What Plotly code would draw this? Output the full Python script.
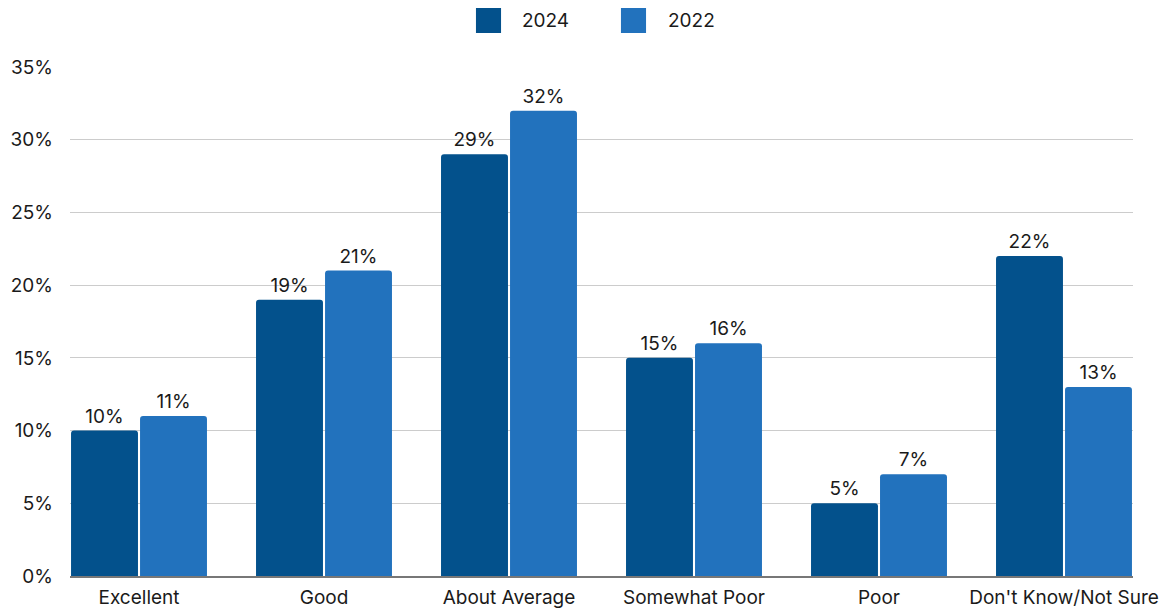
import plotly.graph_objects as go

categories = ["Excellent", "Good", "About Average", "Somewhat Poor", "Poor", "Don't Know/Not Sure"]
values_2024 = [10, 19, 29, 15, 5, 22]
values_2022 = [11, 21, 32, 16, 7, 13]
y_ticks = [0, 5, 10, 15, 20, 25, 30, 35]
y_tick_labels = [f"{v}%" for v in y_ticks]

FONT = "Inter"
TEXT = "#1a1a1a"
SIZE = 19

series = [
    ("2024", values_2024, "#03518C"),
    ("2022", values_2022, "#2272BD"),
]

fig = go.Figure()
for name, vals, color in series:
    fig.add_trace(go.Bar(
        name=name,
        x=categories,
        y=vals,
        text=[f"{v}%" for v in vals],
        texttemplate="%{text}",
        textposition="outside",
        cliponaxis=False,
        marker=dict(color=color, cornerradius=3, line=dict(width=0)),
        textfont=dict(family=FONT, size=SIZE, color=TEXT),
        showlegend=False,
    ))

# Legend: large swatches with labels, centred above the plot
legend_items = [
    (0.3819, 0.4055, 0.4233, "2024", "#03518C"),
    (0.5183, 0.5419, 0.5607, "2022", "#2272BD"),
]
for x0, x1, xt, label, color in legend_items:
    fig.add_shape(
        type="rect", xref="paper", yref="paper",
        x0=x0, x1=x1, y0=1.0668, y1=1.1159,
        fillcolor=color, line=dict(width=0), layer="above",
    )
    fig.add_annotation(
        xref="paper", yref="paper", x=xt, y=1.0914,
        text=label, showarrow=False, xanchor="left", yanchor="middle",
        font=dict(family=FONT, size=SIZE, color=TEXT),
    )

fig.update_layout(
    width=1176,
    height=614,
    margin=dict(l=70, r=43, t=67, b=38),
    paper_bgcolor="white",
    plot_bgcolor="white",
    barmode="group",
    bargap=0.254,
    bargroupgap=0.03,
    font=dict(family=FONT, size=SIZE, color=TEXT),
    showlegend=False,
    xaxis=dict(
        range=[-0.373, 5.373],
        automargin=False,
        showgrid=False,
        showline=True,
        linecolor="#777777",
        linewidth=2,
        ticks="",
        ticklabelstandoff=3,
        tickfont=dict(family=FONT, size=SIZE, color=TEXT),
    ),
    yaxis=dict(
        range=[0, 35],
        automargin=False,
        tickvals=y_ticks,
        ticktext=y_tick_labels,
        showgrid=True,
        gridcolor="#cccccc",
        gridwidth=1,
        zeroline=False,
        showline=False,
        ticks="",
        ticklabelstandoff=16,
        tickfont=dict(family=FONT, size=SIZE, color=TEXT),
    ),
)

fig.write_html("out.html")
